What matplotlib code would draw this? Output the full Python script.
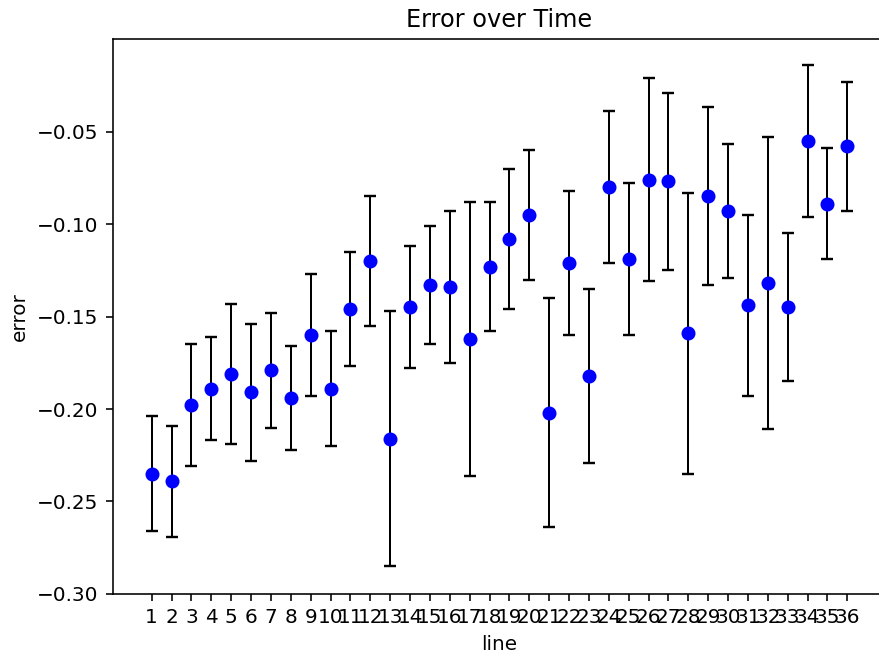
import numpy as np
import matplotlib
matplotlib.use("Agg")
import matplotlib.pyplot as plt

lines = list(range(1, 37))
mean_error = [-0.235, -0.239, -0.198, -0.189, -0.181, -0.191, -0.179, -0.194, -0.160, -0.189,
              -0.146, -0.120, -0.216, -0.145, -0.133, -0.134, -0.162, -0.123, -0.108, -0.095,
              -0.202, -0.121, -0.182, -0.080, -0.119, -0.076, -0.077, -0.159, -0.085, -0.093,
              -0.144, -0.132, -0.145, -0.055, -0.089, -0.058]
std_error = [0.031, 0.030, 0.033, 0.028, 0.038, 0.037, 0.031, 0.028, 0.033, 0.031,
             0.031, 0.035, 0.069, 0.033, 0.032, 0.041, 0.074, 0.035, 0.038, 0.035,
             0.062, 0.039, 0.047, 0.041, 0.041, 0.055, 0.048, 0.076, 0.048, 0.036,
             0.049, 0.079, 0.040, 0.041, 0.030, 0.035]

fig = plt.figure(figsize=(879 / 144, 657 / 144), dpi=144)
ax = fig.add_axes([0.1282, 0.0959, 0.8800, 0.8447])
ax.errorbar(lines, mean_error, yerr=std_error, fmt='o', color='blue', ecolor='black',
            elinewidth=1, capsize=3, capthick=1.2)
ax.set_xticks(lines, [str(i) for i in lines])
ax.set_xlim(-0.96, 37.96)
ax.set_ylim(-0.30, 0.0)
ax.set_yticks([-0.30, -0.25, -0.20, -0.15, -0.10, -0.05])
ax.set_title('Error over Time')
ax.set_xlabel('line')
ax.set_ylabel('error')
fig.savefig('out.png', dpi=144)
